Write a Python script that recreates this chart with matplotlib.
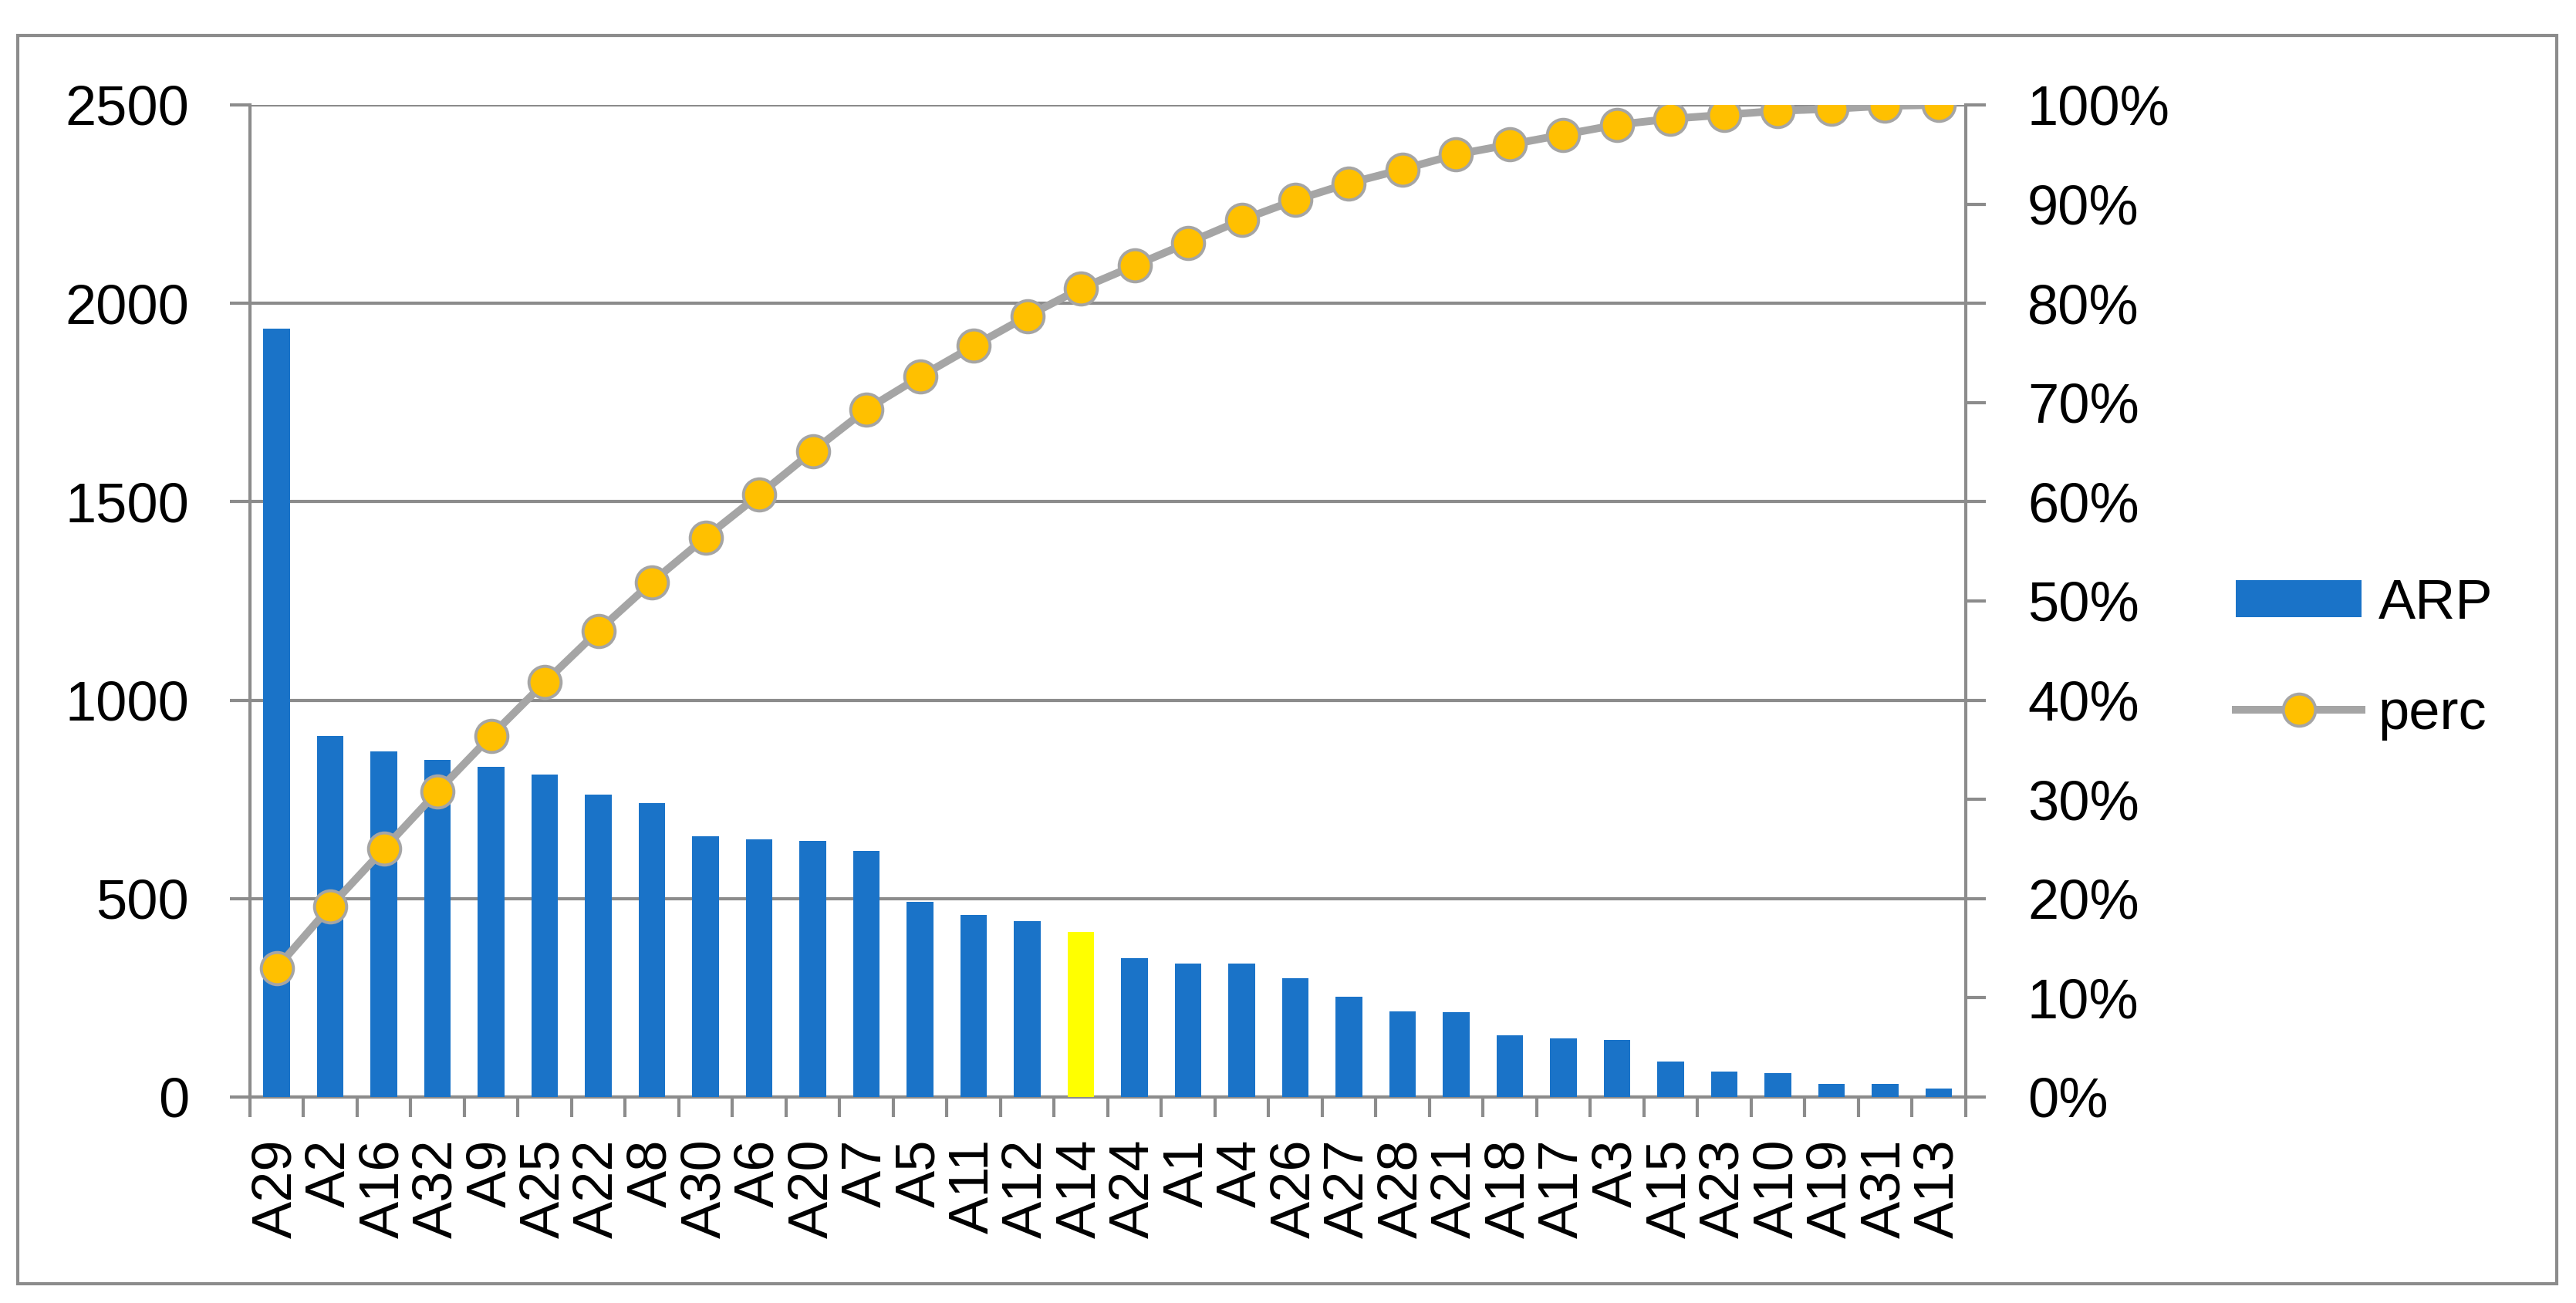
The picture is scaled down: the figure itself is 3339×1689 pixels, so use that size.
import numpy as np
import matplotlib
matplotlib.use("Agg")
import matplotlib.pyplot as plt
from matplotlib.patches import Rectangle
from matplotlib.lines import Line2D
from matplotlib.patches import Patch

plt.rcParams['font.family'] = ['Liberation Sans', 'DejaVu Sans']

# categories (sorted by ARP, descending)
labels = ['A29', 'A2', 'A16', 'A32', 'A9', 'A25', 'A22', 'A8', 'A30', 'A6', 'A20',
          'A7', 'A5', 'A11', 'A12', 'A14', 'A24', 'A1', 'A4', 'A26', 'A27', 'A28',
          'A21', 'A18', 'A17', 'A3', 'A15', 'A23', 'A10', 'A19', 'A31', 'A13']
arp = [1937, 910, 871, 850, 832, 813, 762, 740, 657, 649, 646,
       621, 492, 459, 444, 415, 350, 337, 337, 300, 253, 216,
       214, 156, 148, 143, 89, 64, 61, 33, 33, 21]
# cumulative share
perc = [13.0, 19.2, 25.0, 30.8, 36.4, 41.8, 47.0, 51.9, 56.4, 60.7, 65.1,
        69.3, 72.6, 75.7, 78.7, 81.5, 83.8, 86.1, 88.4, 90.4, 92.1, 93.5,
        95.0, 96.0, 97.0, 98.0, 98.6, 99.0, 99.4, 99.6, 99.9, 100.0]
highlight = 'A14'

blue = '#1A73C8'
yellow = '#FFFF00'
gray = '#8C8C8C'
line_gray = '#A5A5A5'
gold = '#FFC000'

fig = plt.figure(figsize=(16.695, 8.445), dpi=200)
ax = fig.add_axes([0.0970, 0.1581, 0.6660, 0.7614])

x = np.arange(len(labels))
colors = [yellow if l == highlight else blue for l in labels]
ax.bar(x, arp, width=0.5, color=colors, zorder=3)

ax.set_xlim(-0.5, len(labels) - 0.5)
ax.set_ylim(0, 2500)
ax.set_yticks(np.arange(0, 2501, 500))
ax.grid(axis='y', color=gray, linewidth=1.5, zorder=0)
ax.set_axisbelow(True)

ax.set_xticks(x)
ax.set_xticklabels(labels, rotation=90, fontsize=26)
ax.set_xticks(np.arange(-0.5, len(labels), 1), minor=True)
ax.tick_params(axis='x', which='major', length=0, pad=19.5)
ax.tick_params(axis='x', which='minor', length=9.4, width=1.5, color=gray)
ax.tick_params(axis='y', length=9.4, width=1.5, color=gray, labelsize=26, pad=19)

for s in ['top', 'right']:
    ax.spines[s].set_visible(False)
for s in ['left', 'bottom']:
    ax.spines[s].set_color(gray)
    ax.spines[s].set_linewidth(1.5)

ax2 = ax.twinx()
ax2.plot(x, np.array(perc) / 100, color=line_gray, linewidth=3.6,
         marker='o', markersize=15, markerfacecolor=gold,
         markeredgecolor=line_gray, markeredgewidth=1.4, zorder=4)
ax2.set_ylim(0, 1)
ax2.set_yticks(np.arange(0, 1.01, 0.1))
ax2.set_yticklabels([f'{int(round(v * 100))}%' for v in np.arange(0, 1.01, 0.1)])
ax2.tick_params(axis='y', length=9.4, width=1.5, color=gray, labelsize=26, pad=19.5)
for s in ['top', 'left', 'bottom']:
    ax2.spines[s].set_visible(False)
ax2.spines['right'].set_color(gray)
ax2.spines['right'].set_linewidth(1.5)

handles = [Patch(facecolor=blue, label='ARP'),
           Line2D([0], [0], color=line_gray, linewidth=3.6, marker='o', markersize=15,
                  markerfacecolor=gold, markeredgecolor=line_gray, markeredgewidth=1.4,
                  label='perc')]
fig.legend(handles=handles, loc='center left', bbox_to_anchor=(0.868, 0.494),
           frameon=False, fontsize=26, handlelength=2.25, handleheight=0.64,
           handletextpad=0.3, labelspacing=1.05, borderpad=0, borderaxespad=0)

# outer chart border
fig.patches.append(Rectangle((0.0069, 0.0148), 0.9856, 0.958, transform=fig.transFigure,
                             fill=False, edgecolor=gray, linewidth=1.5))

fig.savefig('out.png', dpi=200)
